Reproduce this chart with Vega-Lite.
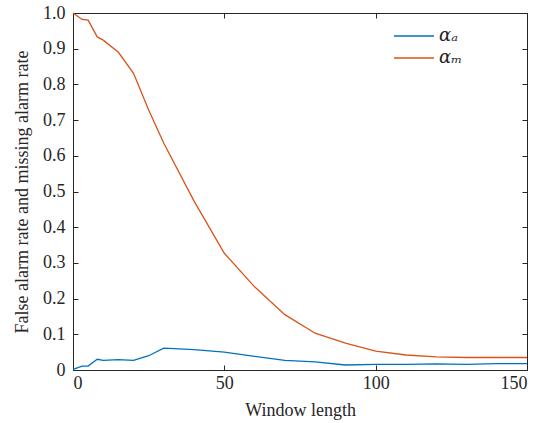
{
  "$schema": "https://vega.github.io/schema/vega-lite/v6.json",
  "width": 454,
  "height": 357,
  "autosize": {"type": "none"},
  "padding": {"left": 73, "top": 13, "right": 22, "bottom": 53},
  "background": "white",
  "config": {
    "view": {"stroke": null},
    "font": "Liberation Serif",
    "axis": {
      "domainColor": "#262626",
      "tickColor": "#262626",
      "labelColor": "#262626",
      "titleColor": "#262626",
      "labelFont": "Liberation Serif",
      "titleFont": "Liberation Serif",
      "titleFontWeight": "normal",
      "grid": false,
      "tickSize": -5,
      "domainWidth": 1,
      "tickWidth": 1
    }
  },
  "data": {
    "values": [
      {"w": 0, "rate": 0.002, "s": "αₐ"},
      {"w": 3, "rate": 0.011, "s": "αₐ"},
      {"w": 5, "rate": 0.011, "s": "αₐ"},
      {"w": 8, "rate": 0.030, "s": "αₐ"},
      {"w": 10, "rate": 0.027, "s": "αₐ"},
      {"w": 15, "rate": 0.029, "s": "αₐ"},
      {"w": 20, "rate": 0.027, "s": "αₐ"},
      {"w": 25, "rate": 0.040, "s": "αₐ"},
      {"w": 30, "rate": 0.061, "s": "αₐ"},
      {"w": 40, "rate": 0.057, "s": "αₐ"},
      {"w": 50, "rate": 0.050, "s": "αₐ"},
      {"w": 60, "rate": 0.038, "s": "αₐ"},
      {"w": 70, "rate": 0.027, "s": "αₐ"},
      {"w": 80, "rate": 0.023, "s": "αₐ"},
      {"w": 90, "rate": 0.014, "s": "αₐ"},
      {"w": 100, "rate": 0.016, "s": "αₐ"},
      {"w": 110, "rate": 0.016, "s": "αₐ"},
      {"w": 120, "rate": 0.017, "s": "αₐ"},
      {"w": 130, "rate": 0.016, "s": "αₐ"},
      {"w": 140, "rate": 0.018, "s": "αₐ"},
      {"w": 150, "rate": 0.018, "s": "αₐ"},
      {"w": 0, "rate": 1.0, "s": "αₘ"},
      {"w": 3, "rate": 0.982, "s": "αₘ"},
      {"w": 5, "rate": 0.980, "s": "αₘ"},
      {"w": 8, "rate": 0.933, "s": "αₘ"},
      {"w": 10, "rate": 0.924, "s": "αₘ"},
      {"w": 15, "rate": 0.890, "s": "αₘ"},
      {"w": 20, "rate": 0.831, "s": "αₘ"},
      {"w": 25, "rate": 0.728, "s": "αₘ"},
      {"w": 30, "rate": 0.635, "s": "αₘ"},
      {"w": 40, "rate": 0.473, "s": "αₘ"},
      {"w": 50, "rate": 0.327, "s": "αₘ"},
      {"w": 60, "rate": 0.233, "s": "αₘ"},
      {"w": 70, "rate": 0.155, "s": "αₘ"},
      {"w": 80, "rate": 0.103, "s": "αₘ"},
      {"w": 90, "rate": 0.075, "s": "αₘ"},
      {"w": 100, "rate": 0.053, "s": "αₘ"},
      {"w": 110, "rate": 0.042, "s": "αₘ"},
      {"w": 120, "rate": 0.037, "s": "αₘ"},
      {"w": 130, "rate": 0.035, "s": "αₘ"},
      {"w": 140, "rate": 0.035, "s": "αₘ"},
      {"w": 150, "rate": 0.035, "s": "αₘ"}
    ]
  },
  "layer": [
    {
      "mark": {"type": "line", "strokeWidth": 1.3},
      "encoding": {
        "x": {
          "field": "w", "type": "quantitative",
          "scale": {"domain": [0, 150], "nice": false},
          "axis": {"values": [0, 50, 100, 150], "title": "Window length", "labelFontSize": 18, "titleFontSize": 18, "labelPadding": 9, "titlePadding": 9}
        },
        "y": {
          "field": "rate", "type": "quantitative",
          "scale": {"domain": [0, 1], "nice": false},
          "axis": {
            "values": [0, 0.1, 0.2, 0.3, 0.4, 0.5, 0.6, 0.7, 0.8, 0.9, 1.0],
            "labelExpr": "datum.value == 0 ? '0' : (datum.value == 1 ? '1.0' : format(datum.value, '.1f'))",
            "title": "False alarm rate and missing alarm rate",
            "labelFontSize": 18,
            "titleFontSize": 18,
            "labelPadding": 13,
            "titlePadding": 11
          }
        },
        "color": {
          "field": "s", "type": "nominal",
          "scale": {"domain": ["αₐ", "αₘ"], "range": ["#0072BD", "#D95319"]},
          "legend": {
            "title": null,
            "orient": "none",
            "legendX": 340,
            "legendY": 12,
            "symbolType": "M-3,0H1",
            "symbolSize": 400,
            "symbolStrokeWidth": 1.5,
            "symbolFillColor": "transparent",
            "labelFont": "DejaVu Serif",
            "labelFontStyle": "italic",
            "labelFontSize": 18,
            "labelOffset": 4,
            "labelColor": "#262626",
            "rowPadding": 2
          }
        }
      }
    },
    {
      "mark": {"type": "line", "opacity": 0},
      "encoding": {
        "x": {
          "field": "w", "type": "quantitative",
          "axis": {"orient": "top", "values": [0, 50, 100, 150], "labels": false, "title": null}
        },
        "y": {
          "field": "rate", "type": "quantitative",
          "axis": {"orient": "right", "values": [0, 0.1, 0.2, 0.3, 0.4, 0.5, 0.6, 0.7, 0.8, 0.9, 1.0], "labels": false, "title": null}
        }
      }
    }
  ],
  "resolve": {"axis": {"x": "independent", "y": "independent"}}
}
